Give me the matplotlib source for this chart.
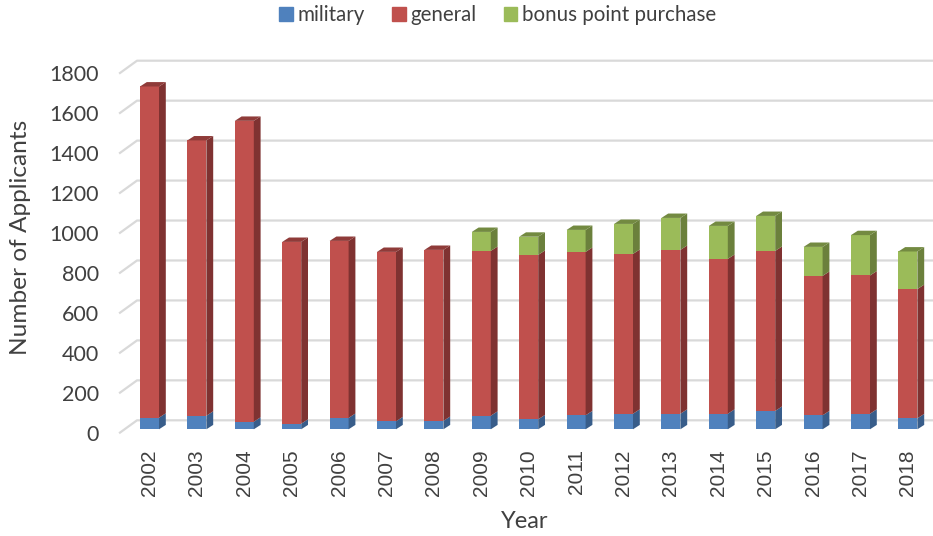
import numpy as np
import matplotlib
matplotlib.use("Agg")
import matplotlib.pyplot as plt
from matplotlib.patches import Patch, Polygon
from matplotlib.transforms import offset_copy

plt.rcParams['font.family'] = ['Lato', 'DejaVu Sans']

years = [2002, 2003, 2004, 2005, 2006, 2007, 2008, 2009, 2010,
         2011, 2012, 2013, 2014, 2015, 2016, 2017, 2018]
military = [58, 68, 38, 28, 57, 40, 42, 68, 50, 70, 78, 78, 78, 92, 70, 78, 55]
general = [1658, 1378, 1506, 910, 886, 848, 856, 825, 823,
           818, 800, 820, 775, 801, 698, 692, 647]
bonus = [0, 0, 0, 0, 0, 0, 0, 95, 91, 110, 150, 160, 165, 175, 145, 202, 188]
yticks = list(range(0, 2000, 200))

W, H = 933, 536
fig = plt.figure(figsize=(W / 100, H / 100), dpi=100)

# axes placed on the front plane of the excel 3d box
left, right, bottom, top = 120, 933, 432.6, 73
ax = fig.add_axes([left / W, 1 - bottom / H, (right - left) / W, (bottom - top) / H])
step = 47.4
ax.set_xlim((left - 149.5) / step, (right - 149.5) / step)
ax.set_ylim(0, 1800)
ypx = (bottom - top) / 1800

txt = '#404040'
for s in ax.spines.values():
    s.set_visible(False)
ax.set_xticks(range(len(years)))
ax.set_xticklabels(years, rotation=90, fontsize=15, color=txt, family='Liberation Sans')
ax.set_yticks(yticks)
ax.set_yticklabels(yticks, fontsize=15.5, color=txt)
ax.tick_params(length=0)
ax.tick_params(axis='y', pad=15)
ax.tick_params(axis='x', pad=12)
ax.set_xlabel('Year', fontsize=17, color=txt, va='center')
ax.set_ylabel('Number of Applicants', fontsize=17.6, color=txt, va='center')
ax.xaxis.set_label_coords(0.498, -0.2486)
ax.yaxis.set_label_coords(-0.1222, 0.5425)

# gridlines on the back wall + the short diagonals on the side wall
x0 = (left - 149.5) / step
x1 = (137 - 149.5) / step
rise = 12.3 / ypx
for v in yticks:
    ax.plot([x0, x1, (right - 149.5) / step], [v, v + rise, v + rise],
            color='#d9d9d9', lw=1.6, zorder=1, clip_on=False)

# bars sit a little behind the front plane
tr = offset_copy(ax.transData, fig=fig, x=0, y=3.3, units='dots')
w = 19 / step
dx = 6.8 / step
dy = 4.4 / ypx

segments = [(military, '#4f81bd', '#385d8a'),
            (general, '#c0504d', '#7f3231'),
            (bonus, '#9bbb59', '#6b803c')]
tops = {'#4f81bd': '#3f6797', '#c0504d': '#8f3b39', '#9bbb59': '#738a41'}
x = np.arange(len(years))
base = np.zeros(len(years))
for vals, col, dark in segments:
    vals = np.array(vals, dtype=float)
    ax.bar(x, vals, w, bottom=base, color=col, transform=tr, zorder=3, lw=0)
    for i in x:
        if vals[i] <= 0:
            continue
        b, t = base[i], base[i] + vals[i]
        xr = x[i] + w / 2
        ax.add_patch(Polygon([(xr, b), (xr + dx, b + dy), (xr + dx, t + dy), (xr, t)],
                             closed=True, fc=dark, lw=0, transform=tr, zorder=3))
    base = base + vals

# top caps
for i in x:
    col = segments[2][1] if bonus[i] > 0 else segments[1][1]
    xl, xr = x[i] - w / 2, x[i] + w / 2
    ax.add_patch(Polygon([(xl, base[i]), (xr, base[i]), (xr + dx, base[i] + dy), (xl + dx, base[i] + dy)],
                         closed=True, fc=tops[col], lw=0, transform=tr, zorder=3))

handles = [Patch(color=c[1]) for c in segments]
fig.legend(handles, ['military', 'general', 'bonus point purchase'], ncols=3,
           loc='center', bbox_to_anchor=(498 / W, 1 - 15 / H), frameon=False,
           fontsize=14.8, labelcolor=txt, handlelength=0.64, handleheight=0.64,
           handletextpad=0.25, columnspacing=1.33, borderpad=0)

fig.savefig('out.png', dpi=100)
